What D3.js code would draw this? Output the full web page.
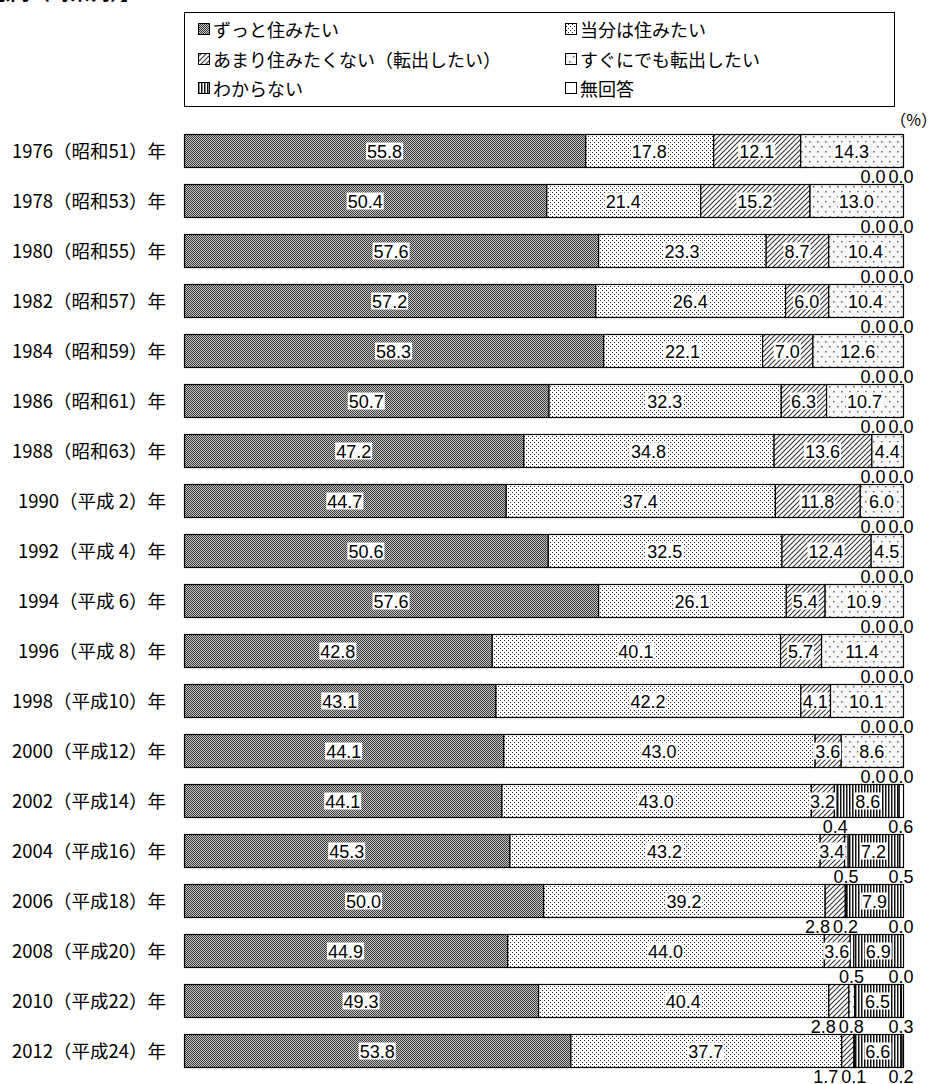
<!DOCTYPE html>
<html lang="ja">
<head>
    <meta charset="UTF-8">
    <title>定住意向（時系列）</title>
    <script src="https://d3js.org/d3.v7.min.js"></script>
</head>
<style>
    body { margin: 0; background: #fff; }
    text { font-family: "Liberation Sans", Arial, sans-serif; }
    .jp { font-family: "Noto Sans CJK JP", sans-serif; }
</style>
<body>
<script>
    // ---- data ----
    const years = [
        "1976（昭和51）年", "1978（昭和53）年", "1980（昭和55）年", "1982（昭和57）年",
        "1984（昭和59）年", "1986（昭和61）年", "1988（昭和63）年", "1990（平成 2）年",
        "1992（平成 4）年", "1994（平成 6）年", "1996（平成 8）年", "1998（平成10）年",
        "2000（平成12）年", "2002（平成14）年", "2004（平成16）年", "2006（平成18）年",
        "2008（平成20）年", "2010（平成22）年", "2012（平成24）年"
    ];
    const seriesNames = [
        "ずっと住みたい", "当分は住みたい", "あまり住みたくない（転出したい）",
        "すぐにでも転出したい", "わからない", "無回答"
    ];
    const alwaysStay = [55.8, 50.4, 57.6, 57.2, 58.3, 50.7, 47.2, 44.7, 50.6, 57.6, 42.8, 43.1, 44.1, 44.1, 45.3, 50.0, 44.9, 49.3, 53.8];
    const forNow     = [17.8, 21.4, 23.3, 26.4, 22.1, 32.3, 34.8, 37.4, 32.5, 26.1, 40.1, 42.2, 43.0, 43.0, 43.2, 39.2, 44.0, 40.4, 37.7];
    const ratherMove = [12.1, 15.2, 8.7, 6.0, 7.0, 6.3, 13.6, 11.8, 12.4, 5.4, 5.7, 4.1, 3.6, 3.2, 3.4, 2.8, 3.6, 2.8, 1.7];
    const moveSoon   = [14.3, 13.0, 10.4, 10.4, 12.6, 10.7, 4.4, 6.0, 4.5, 10.9, 11.4, 10.1, 8.6, 0.4, 0.5, 0.2, 0.5, 0.8, 0.1];
    const dontKnow   = [0.0, 0.0, 0.0, 0.0, 0.0, 0.0, 0.0, 0.0, 0.0, 0.0, 0.0, 0.0, 0.0, 8.6, 7.2, 7.9, 6.9, 6.5, 6.6];
    const noAnswer   = [0.0, 0.0, 0.0, 0.0, 0.0, 0.0, 0.0, 0.0, 0.0, 0.0, 0.0, 0.0, 0.0, 0.6, 0.5, 0.0, 0.0, 0.3, 0.2];
    const seriesValues = [alwaysStay, forNow, ratherMove, moveSoon, dontKnow, noAnswer];

    const rows = years.map((y, i) => {
        const r = {year: y};
        seriesNames.forEach((s, k) => r[s] = seriesValues[k][i]);
        return r;
    });

    const width = 937, height = 1084;
    const svg = d3.select("body").append("svg")
            .attr("width", width)
            .attr("height", height);

    svg.append("rect").attr("width", width).attr("height", height).attr("fill", "#fff");

    // ---- fill patterns ----
    const defs = svg.append("defs");
    const patIds = ["p0", "p1", "p2", "p3", "p4", "p5"];

    const p0 = defs.append("pattern").attr("id", "p0").attr("patternUnits", "userSpaceOnUse")
            .attr("width", 2).attr("height", 2);
    p0.append("rect").attr("width", 2).attr("height", 2).attr("fill", "#c4c4c4");
    p0.append("rect").attr("width", 1).attr("height", 1).attr("fill", "#3a3a3a");
    p0.append("rect").attr("x", 1).attr("y", 1).attr("width", 1).attr("height", 1).attr("fill", "#3a3a3a");

    const p1 = defs.append("pattern").attr("id", "p1").attr("patternUnits", "userSpaceOnUse")
            .attr("width", 4).attr("height", 4);
    p1.append("rect").attr("width", 4).attr("height", 4).attr("fill", "#fff");
    p1.append("rect").attr("x", 0).attr("y", 0).attr("width", 1).attr("height", 1).attr("fill", "#222");
    p1.append("rect").attr("x", 2).attr("y", 2).attr("width", 1).attr("height", 1).attr("fill", "#222");

    const p2 = defs.append("pattern").attr("id", "p2").attr("patternUnits", "userSpaceOnUse")
            .attr("width", 5).attr("height", 5);
    p2.append("rect").attr("width", 5).attr("height", 5).attr("fill", "#fff");
    p2.append("path").attr("d", "M0,5 L5,0 M-1,1 L1,-1 M4,6 L6,4")
            .attr("stroke", "#333").attr("stroke-width", 1.1);

    const p3 = defs.append("pattern").attr("id", "p3").attr("patternUnits", "userSpaceOnUse")
            .attr("width", 8).attr("height", 10);
    p3.append("rect").attr("width", 8).attr("height", 10).attr("fill", "#f6f6f6");
    p3.append("rect").attr("x", 1).attr("y", 1).attr("width", 1.5).attr("height", 1.5).attr("fill", "#666");
    p3.append("rect").attr("x", 5).attr("y", 6).attr("width", 1.5).attr("height", 1.5).attr("fill", "#666");

    const p4 = defs.append("pattern").attr("id", "p4").attr("patternUnits", "userSpaceOnUse")
            .attr("width", 3).attr("height", 3);
    p4.append("rect").attr("width", 3).attr("height", 3).attr("fill", "#fff");
    p4.append("rect").attr("width", 1.5).attr("height", 3).attr("fill", "#111");

    const p5 = defs.append("pattern").attr("id", "p5").attr("patternUnits", "userSpaceOnUse")
            .attr("width", 4).attr("height", 4);
    p5.append("rect").attr("width", 4).attr("height", 4).attr("fill", "#fff");

    // ---- title (cut off at top) ----
    svg.append("text").attr("class", "jp")
            .attr("x", 140).attr("y", 0)
            .attr("text-anchor", "end")
            .attr("font-size", 20).attr("font-weight", "bold")
            .text("【定住意向（時系列）】");

    // ---- legend ----
    const legend = svg.append("g");
    legend.append("rect")
            .attr("x", 184.5).attr("y", 12.5).attr("width", 710).attr("height", 94)
            .attr("fill", "#fff").attr("stroke", "#000");
    const legX = [198, 565], legY = [29, 59, 88];
    seriesNames.forEach((s, k) => {
        const lx = legX[k % 2], ly = legY[Math.floor(k / 2)];
        legend.append("rect")
                .attr("x", lx + 0.5).attr("y", ly - 5.5).attr("width", 11).attr("height", 11)
                .attr("fill", `url(#${patIds[k]})`).attr("stroke", "#000").attr("stroke-width", 1);
        legend.append("text").attr("class", "jp")
                .attr("x", lx + 15).attr("y", ly)
                .attr("dominant-baseline", "central")
                .attr("font-size", 18)
                .text(s);
    });

    svg.append("text").attr("class", "jp")
            .attr("x", 937).attr("y", 119)
            .attr("text-anchor", "end").attr("dominant-baseline", "central")
            .attr("font-size", 16)
            .text("（%）");

    // ---- scales ----
    const x = d3.scaleLinear().domain([0, 1]).range([184, 903]);
    const y = d3.scaleBand().domain(years).range([125, 1075]).paddingInner(0.34).paddingOuter(0.17);

    const stack = d3.stack().keys(seriesNames).offset(d3.stackOffsetExpand);
    const stacked = stack(rows);

    // row labels
    svg.append("g").selectAll("text")
            .data(years)
            .join("text")
            .attr("class", "jp")
            .attr("x", 166)
            .attr("y", d => y(d) + y.bandwidth() / 2)
            .attr("text-anchor", "end")
            .attr("dominant-baseline", "central")
            .attr("font-size", 18.5)
            .text(d => d);

    // bars
    const layers = svg.append("g").selectAll("g")
            .data(stacked)
            .join("g")
            .attr("fill", (d, k) => `url(#${patIds[k]})`);

    layers.selectAll("rect")
            .data(d => d)
            .join("rect")
            .attr("x", d => x(d[0]) + 0.5)
            .attr("y", d => Math.round(y(d.data.year)) + 0.5)
            .attr("width", d => Math.max(0, x(d[1]) - x(d[0])))
            .attr("height", Math.round(y.bandwidth()))
            .attr("stroke", "#000")
            .attr("stroke-width", 1.2);

    // ---- value labels ----
    const fmt = d3.format(".1f");
    const labelG = svg.append("g");
    const fs = 18;
    const measure = labelG.append("text").attr("font-size", fs).attr("visibility", "hidden");
    const textW = s => { measure.text(s); return measure.node().getComputedTextLength(); };

    years.forEach((yr, i) => {
        const top = Math.round(y(yr)) + 0.5, bh = Math.round(y.bandwidth());
        const below = [];
        stacked.forEach((layer, k) => {
            const d = layer[i];
            const v = seriesValues[k][i];
            const cx = (x(d[0]) + x(d[1])) / 2;
            const s = fmt(v);
            if (v >= 3) {
                const w = textW(s);
                labelG.append("rect")
                        .attr("x", cx - w / 2 - 1).attr("y", top + bh / 2 - 8.5)
                        .attr("width", w + 2).attr("height", 17)
                        .attr("fill", "#fff");
                labelG.append("text")
                        .attr("x", cx).attr("y", top + bh / 2 + 1)
                        .attr("text-anchor", "middle").attr("dominant-baseline", "central")
                        .attr("font-size", fs)
                        .text(s);
            } else {
                below.push({cx, s, w: textW(s)});
            }
        });
        // push overlapping small labels to the left
        let limit = Infinity;
        for (let j = below.length - 1; j >= 0; j--) {
            const b = below[j];
            let cx = Math.min(b.cx, 901);
            if (cx + b.w / 2 > limit - 3) cx = limit - 3 - b.w / 2;
            limit = cx - b.w / 2;
            labelG.append("text")
                    .attr("x", cx).attr("y", top + bh + 15)
                    .attr("text-anchor", "middle")
                    .attr("font-size", fs)
                    .text(b.s);
        }
    });
    measure.remove();
</script>
</body>
</html>
